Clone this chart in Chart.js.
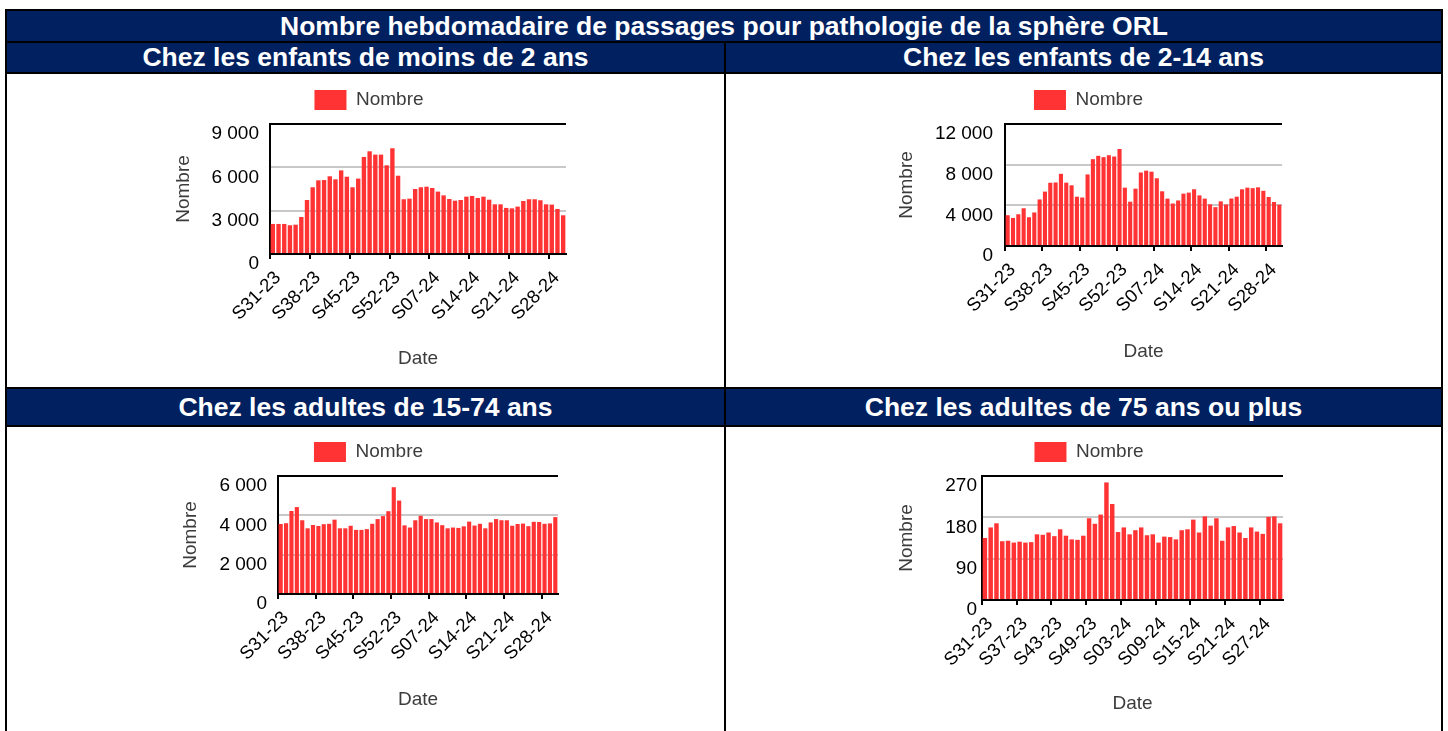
<!DOCTYPE html>
<html lang="fr">
<head>
<meta charset="UTF-8">
<title>Passages ORL</title>
<script src="https://cdn.jsdelivr.net/npm/chart.js"></script>
<style>
    body {
        margin: 0;
        width: 1448px;
        height: 731px;
        overflow: hidden;
        background: #fff;
        font-family: 'Liberation Sans', Arial, sans-serif;
    }
    .line { position: absolute; background: #000; }
    .head {
        position: absolute;
        background: #002060;
        color: #fff;
        font-weight: bold;
        font-size: 26.5px;
        text-align: center;
        white-space: nowrap;
    }
    .panel { position: absolute; width: 717px; height: 313px; background: #fff; }
    .panel canvas { display: block; }
</style>
</head>
<body>

<!-- table frame -->
<div class="head" style="left:7px; top:11px; width:1434px; height:30px; line-height:30px;">Nombre hebdomadaire de passages pour pathologie de la sphère ORL</div>
<div class="head" style="left:7px; top:43px; width:717px; height:29px; line-height:29px;">Chez les enfants de moins de 2 ans</div>
<div class="head" style="left:726px; top:43px; width:715px; height:29px; line-height:29px;">Chez les enfants de 2-14 ans</div>
<div class="head" style="left:7px; top:389px; width:717px; height:36px; line-height:36px;">Chez les adultes de 15-74 ans</div>
<div class="head" style="left:726px; top:389px; width:715px; height:36px; line-height:36px;">Chez les adultes de 75 ans ou plus</div>

<div class="panel" style="left:7px; top:74px;"><canvas id="c1" width="717" height="313"></canvas></div>
<div class="panel" style="left:726px; top:74px;"><canvas id="c2" width="717" height="313"></canvas></div>
<div class="panel" style="left:7px; top:427px;"><canvas id="c3" width="717" height="313"></canvas></div>
<div class="panel" style="left:726px; top:427px;"><canvas id="c4" width="717" height="313"></canvas></div>

<div class="line" style="left:5px; top:9px; width:1438px; height:2px;"></div>
<div class="line" style="left:5px; top:41px; width:1438px; height:2px;"></div>
<div class="line" style="left:5px; top:72px; width:1438px; height:2px;"></div>
<div class="line" style="left:5px; top:387px; width:1438px; height:2px;"></div>
<div class="line" style="left:5px; top:425px; width:1438px; height:2px;"></div>
<div class="line" style="left:5px; top:9px; width:2px; height:740px;"></div>
<div class="line" style="left:1441px; top:9px; width:2px; height:740px;"></div>
<div class="line" style="left:724px; top:41px; width:2px; height:708px;"></div>

<script>
    // weekly counts, S31-23 to S30-24
    const weekLabels = [
        'S31-23', 'S32-23', 'S33-23', 'S34-23', 'S35-23', 'S36-23', 'S37-23', 'S38-23',
        'S39-23', 'S40-23', 'S41-23', 'S42-23', 'S43-23', 'S44-23', 'S45-23', 'S46-23',
        'S47-23', 'S48-23', 'S49-23', 'S50-23', 'S51-23', 'S52-23',
        'S01-24', 'S02-24', 'S03-24', 'S04-24', 'S05-24', 'S06-24', 'S07-24', 'S08-24',
        'S09-24', 'S10-24', 'S11-24', 'S12-24', 'S13-24', 'S14-24', 'S15-24', 'S16-24',
        'S17-24', 'S18-24', 'S19-24', 'S20-24', 'S21-24', 'S22-24', 'S23-24', 'S24-24',
        'S25-24', 'S26-24', 'S27-24', 'S28-24', 'S29-24', 'S30-24'
    ];

    const moins2ans = [
        2080, 2080, 2080, 1990, 2030, 2560, 3740, 4620, 5100, 5120,
        5380, 5170, 5790, 5350, 4620, 5220, 6720, 7110, 6880, 6880,
        6140, 7320, 5420, 3790, 3830, 4500, 4620, 4660, 4570, 4320,
        4060, 3810, 3690, 3740, 3970, 4020, 3880, 3970, 3760, 3440,
        3440, 3190, 3160, 3280, 3670, 3790, 3790, 3720, 3440, 3420,
        3120, 2680
    ];

    const enfants2a14 = [
        3030, 2760, 3120, 3710, 2830, 3300, 4580, 5350, 6220, 6250,
        7100, 6230, 5970, 4850, 4770, 7040, 8540, 8870, 8740, 8930,
        8800, 9540, 5740, 4360, 5640, 7230, 7410, 7310, 6660, 5380,
        4660, 4180, 4480, 5150, 5250, 5580, 4980, 4660, 4100, 3820,
        4390, 4080, 4670, 4850, 5580, 5740, 5690, 5770, 5430, 4820,
        4330, 4060
    ];

    const adultes15a74 = [
        3560, 3600, 4220, 4420, 3750, 3340, 3510, 3460, 3550, 3570,
        3780, 3340, 3340, 3470, 3260, 3260, 3300, 3570, 3810, 3960,
        4210, 5430, 4750, 3490, 3380, 3750, 3980, 3810, 3810, 3640,
        3500, 3340, 3380, 3360, 3440, 3680, 3480, 3570, 3340, 3640,
        3810, 3750, 3750, 3470, 3560, 3580, 3450, 3670, 3660, 3570,
        3590, 3910
    ];

    const plus75ans = [
        135, 158, 167, 128, 129, 125, 127, 125, 126, 143,
        142, 147, 139, 154, 140, 132, 131, 140, 178, 166,
        186, 256, 209, 148, 158, 143, 152, 158, 141, 143,
        125, 138, 137, 132, 152, 154, 175, 147, 182, 162,
        178, 129, 158, 161, 147, 135, 158, 149, 144, 181,
        182, 167
    ];

    // y axis ranges per chart: [max, step]
    const axisMoins2 = [9000, 3000];
    const axis2a14 = [12000, 4000];
    const axis15a74 = [6000, 2000];
    const axis75 = [270, 90];

    // label every n weeks
    const labelStep = [7, 7, 7, 6];

    Chart.defaults.font.family = "'Liberation Sans', Arial, sans-serif";

    // adds a bit of space under the legend
    const legendGap = {
        id: 'legendGap',
        beforeInit(chart, args, opts) {
            const fit = chart.legend.fit;
            chart.legend.fit = function () {
                fit.call(this);
                this.height += opts.extra || 0;
            };
        }
    };

    function fmt(v) {
        return String(v).replace(/\B(?=(\d{3})+(?!\d))/g, ' ');
    }

    function makeChart(id, values, axis, step, lay) {
        const max = axis[0];
        new Chart(document.getElementById(id), {
            type: 'bar',
            data: {
                labels: weekLabels,
                datasets: [{
                    label: 'Nombre',
                    data: values,
                    backgroundColor: '#ff3333',
                    borderWidth: 0,
                    barPercentage: 0.77,
                    categoryPercentage: 1.0
                }]
            },
            plugins: [legendGap],
            options: {
                responsive: false,
                animation: false,
                layout: {
                    padding: { left: lay.pl, right: lay.pr, top: lay.pt, bottom: lay.pb }
                },
                plugins: {
                    legend: {
                        labels: {
                            boxWidth: 32,
                            boxHeight: 20,
                            padding: 10,
                            color: '#3c3c3c',
                            font: { size: 19 }
                        }
                    },
                    legendGap: { extra: 4 },
                    tooltip: { enabled: false }
                },
                scales: {
                    x: {
                        afterFit(scale) { scale.height = lay.xh; },
                        border: { color: '#000', width: 2 },
                        grid: {
                            offset: true,
                            drawOnChartArea: false,
                            drawTicks: true,
                            tickLength: 5,
                            lineWidth: 2,
                            color: ctx => (ctx.index % step === 0) ? '#000' : 'rgba(0,0,0,0)'
                        },
                        ticks: {
                            autoSkip: false,
                            maxRotation: 45,
                            minRotation: 45,
                            padding: 8,
                            labelOffset: 5,
                            color: '#000',
                            font: { size: 18.5 },
                            callback: (v, i) => (i % step === 0 ? weekLabels[i] : '')
                        },
                        title: {
                            display: true,
                            text: 'Date',
                            color: '#3c3c3c',
                            font: { size: 19 },
                            padding: { top: 0, bottom: 0 }
                        }
                    },
                    y: {
                        min: 0,
                        max: max,
                        afterFit(scale) { scale.width = lay.yw; },
                        border: { color: '#000', width: 2 },
                        grid: {
                            drawTicks: false,
                            lineWidth: 2,
                            color: ctx => (ctx.tick.value === max || ctx.tick.value === 0) ? '#000' : '#c8c8c8'
                        },
                        ticks: {
                            stepSize: axis[1],
                            padding: lay.yp,
                            labelOffset: 10,
                            color: '#000',
                            font: { size: 19 },
                            callback: v => fmt(v)
                        },
                        title: {
                            display: true,
                            text: 'Nombre',
                            color: '#3c3c3c',
                            font: { size: 19 },
                            padding: { top: 0, bottom: 0 }
                        }
                    }
                }
            }
        });
    }

    makeChart('c1', moins2ans, axisMoins2, labelStep[0],
        { pl: 165, pr: 158, pt: 6, pb: 17, yw: 98, xh: 116, yp: 11 });
    makeChart('c2', enfants2a14, axis2a14, labelStep[1],
        { pl: 169, pr: 161, pt: 6, pb: 24, yw: 110, xh: 117, yp: 12 });
    makeChart('c3', adultes15a74, axis15a74, labelStep[2],
        { pl: 172, pr: 166, pt: 5, pb: 29, yw: 99, xh: 117, yp: 11 });
    makeChart('c4', plus75ans, axis75, labelStep[3],
        { pl: 169, pr: 160, pt: 5, pb: 25, yw: 87, xh: 115, yp: 5 });
</script>
</body>
</html>
